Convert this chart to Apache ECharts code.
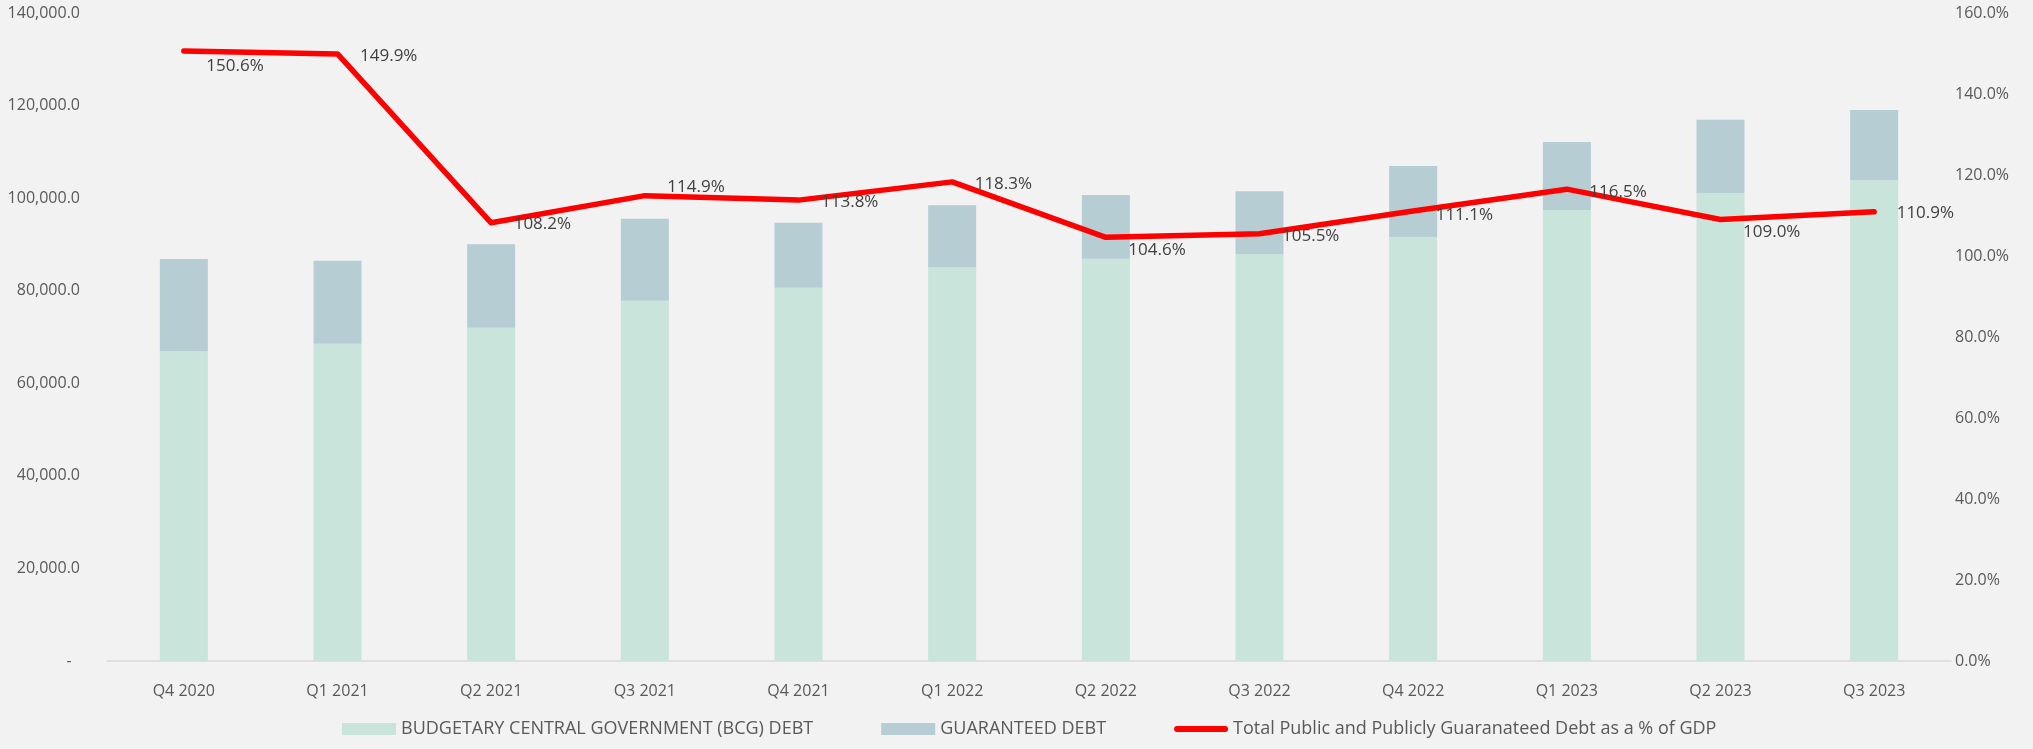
<!DOCTYPE html>
<html lang="en">
<head>
	<meta charset="UTF-8">
	<title>Public Debt</title>
	<style>
		html, body { margin: 0; padding: 0; background: #f2f2f2; }
		#box { width: 2033px; height: 749px; }
	</style>
</head>
<body>
	<div id="box"></div>

	<script src="https://cdn.jsdelivr.net/npm/echarts@6/dist/echarts.min.js"></script>
	<script>
		// data
		var quarters = ['Q4 2020', 'Q1 2021', 'Q2 2021', 'Q3 2021', 'Q4 2021', 'Q1 2022',
			'Q2 2022', 'Q3 2022', 'Q4 2022', 'Q1 2023', 'Q2 2023', 'Q3 2023'];
		var bcgDebt = [67000, 68560, 72010, 77850, 80650, 85120, 86920, 87930, 91610, 97440, 101040, 103850];
		var guaranteedDebt = [19850, 17940, 18020, 17710, 14050, 13330, 13760, 13540, 15330, 14690, 15910, 15190];
		var debtPctGdp = [150.6, 149.9, 108.2, 114.9, 113.8, 118.3, 104.6, 105.5, 111.1, 116.5, 109.0, 110.9];

		// vertical nudge of each % label (style only)
		var labelDy = [15, 2, 1, -8, 2, 2, 13, 2, 4, 3, 13, 1];

		var font = 'Open Sans';
		var myChart = echarts.init(document.getElementById('box'));

		var lineData = debtPctGdp.map(function (v, i) {
			return { value: v, label: { offset: [0, labelDy[i]] } };
		});

		// thick red stroke for the legend, padded to the 56x12 icon box
		var lineIcon = 'path://M0,0L0,0M56,12L56,12M3,3L53,3A3,3,0,0,1,53,9L3,9A3,3,0,0,1,3,3Z';

		var option = {
			backgroundColor: '#f2f2f2',
			animation: false,
			textStyle: { fontFamily: font },
			grid: { left: 107, right: 82, top: 13, bottom: 88 },
			legend: {
				left: 337,
				bottom: 6,
				itemWidth: 54,
				itemHeight: 12,
				itemGap: 68,
				textStyle: { fontFamily: font, fontSize: 18, color: '#595959' },
				data: [
					{ name: 'BUDGETARY CENTRAL GOVERNMENT (BCG) DEBT', icon: 'rect' },
					{ name: 'GUARANTEED DEBT', icon: 'rect' },
					{ name: 'Total Public and Publicly Guaranateed Debt as a % of GDP', icon: lineIcon }
				]
			},
			xAxis: {
				type: 'category',
				data: quarters,
				axisLine: { lineStyle: { color: '#d9d9d9', width: 1.5 } },
				axisTick: { show: false },
				axisLabel: { color: '#595959', fontSize: 16, margin: 22, fontFamily: font }
			},
			yAxis: [{
				type: 'value',
				min: 0,
				max: 140000,
				interval: 20000,
				splitLine: { show: false },
				axisLine: { show: false },
				axisTick: { show: false },
				axisLabel: {
					color: '#595959', fontSize: 16, margin: 27, fontFamily: font,
					formatter: function (v) {
						if (v === 0) return '-  ';
						return v.toLocaleString('en-US', { minimumFractionDigits: 1, maximumFractionDigits: 1 });
					}
				}
			}, {
				type: 'value',
				min: 0,
				max: 160,
				interval: 20,
				splitLine: { show: false },
				axisLine: { show: false },
				axisTick: { show: false },
				axisLabel: {
					color: '#595959', fontSize: 16, margin: 4, fontFamily: font,
					formatter: function (v) { return v.toFixed(1) + '%'; }
				}
			}],
			series: [{
				name: 'BUDGETARY CENTRAL GOVERNMENT (BCG) DEBT',
				type: 'bar',
				stack: 'debt',
				barWidth: 48,
				itemStyle: { color: '#c8e4db' },
				data: bcgDebt
			}, {
				name: 'GUARANTEED DEBT',
				type: 'bar',
				stack: 'debt',
				barWidth: 48,
				itemStyle: { color: '#b6cdd3' },
				data: guaranteedDebt
			}, {
				name: 'Total Public and Publicly Guaranateed Debt as a % of GDP',
				type: 'line',
				yAxisIndex: 1,
				symbol: 'circle',
				symbolSize: 1,
				showSymbol: true,
				lineStyle: { color: '#ff0000', width: 5.5, cap: 'round', join: 'round' },
				itemStyle: { color: '#ff0000' },
				label: {
					show: true,
					position: 'right',
					distance: 22,
					color: '#404040',
					fontSize: 17,
					fontFamily: font,
					formatter: function (p) { return p.value.toFixed(1) + '%'; }
				},
				data: lineData
			}]
		};

		myChart.setOption(option);
	</script>
</body>
</html>
